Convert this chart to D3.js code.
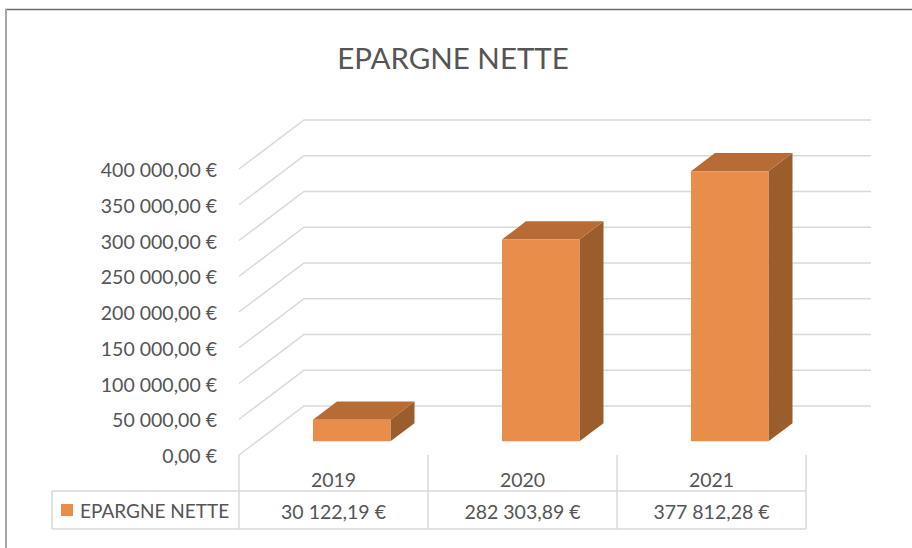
<!DOCTYPE html>
<html>
<head>
<meta charset="utf-8">
<script src="https://cdn.jsdelivr.net/npm/d3@7"></script>
<style>
  body { margin: 0; background: #fff; }
  text { font-family: Lato, "Open Sans", sans-serif; fill: #555; }
</style>
</head>
<body>
<div id="chart"></div>
<script>
var TITLE = 'EPARGNE NETTE';
var SERIES_NAME = 'EPARGNE NETTE';
var YEARS = ['2019', '2020', '2021'];
var EPARGNE = [30122.19, 282303.89, 377812.28];
var Y_TICKS = [0, 50000, 100000, 150000, 200000, 250000, 300000, 350000, 400000];

var width = 912, height = 548;
var plot = {left: 239, right: 806, top: 169, bottom: 455};
// full depth of the 3d box (front plane -> back wall)
var depth = {dx: 65, dy: -49};
var barFront = 0.28, barBack = 0.65;

var fr = d3.formatLocale({decimal: ',', thousands: ' ', grouping: [3], currency: ['', ' €']});
var euro = fr.format('$,.2f');

var data = YEARS.map(function(d, i) { return {year: d, value: EPARGNE[i]}; });

var svg = d3.select('#chart')
    .append('svg')
    .attr('width', width)
    .attr('height', height);

// frame (only top and left edges visible)
svg.append('line').attr('x1', 5).attr('x2', width).attr('y1', 9.5).attr('y2', 9.5)
    .attr('stroke', '#6a6a6a').attr('stroke-width', 1.5);
svg.append('line').attr('x1', 6).attr('x2', 6).attr('y1', 9).attr('y2', height)
    .attr('stroke', '#a6a6a6').attr('stroke-width', 2);

var xCol = d3.scaleBand().domain(YEARS).range([plot.left, plot.right]);
var xBar = d3.scaleBand().domain(YEARS).range([plot.left, plot.right])
    .paddingInner(0.59).paddingOuter(0.295);
var y = d3.scaleLinear().domain([0, 400000]).range([plot.bottom, plot.top]);

function proj(px, v, f) {
    return [px + depth.dx * f, y(v) + depth.dy * f];
}

// title
svg.append('text')
    .attr('x', 453).attr('y', 69)
    .attr('text-anchor', 'middle')
    .style('font-size', '29.5px')
    .text(TITLE);

// gridlines: left wall diagonal + back wall
svg.append('g').selectAll('path')
    .data(Y_TICKS)
    .enter().append('path')
    .attr('d', function(t) {
        var a = proj(plot.left, t, 0), b = proj(plot.left, t, 1), c = proj(plot.right, t, 1);
        return 'M' + a + 'L' + b + 'L' + c;
    })
    .attr('fill', 'none')
    .attr('stroke', '#d9d9d9')
    .attr('stroke-width', 1.5);

// y labels
svg.append('g').selectAll('text')
    .data(Y_TICKS)
    .enter().append('text')
    .attr('x', 217)
    .attr('y', function(t) { return y(t) + 8; })
    .attr('text-anchor', 'end')
    .style('font-size', '19.5px')
    .text(function(t) { return euro(t); });

// bars
var bars = svg.append('g').selectAll('g')
    .data(data)
    .enter().append('g');

function poly(pts) { return 'M' + pts.join('L') + 'Z'; }

bars.append('path')
    .attr('fill', '#9b5d2b')
    .attr('d', function(d) {
        var x1 = xBar(d.year) + xBar.bandwidth();
        return poly([proj(x1, 0, barFront), proj(x1, d.value, barFront), proj(x1, d.value, barBack), proj(x1, 0, barBack)]);
    });
bars.append('path')
    .attr('fill', '#b86c35')
    .attr('d', function(d) {
        var x0 = xBar(d.year), x1 = x0 + xBar.bandwidth();
        return poly([proj(x0, d.value, barFront), proj(x1, d.value, barFront), proj(x1, d.value, barBack), proj(x0, d.value, barBack)]);
    });
bars.append('path')
    .attr('fill', '#e88d4a')
    .attr('d', function(d) {
        var x0 = xBar(d.year), x1 = x0 + xBar.bandwidth();
        return poly([proj(x0, 0, barFront), proj(x1, 0, barFront), proj(x1, d.value, barFront), proj(x0, d.value, barFront)]);
    });

// data table
var rowTop = 455, rowMid = 491, rowBot = 529, legLeft = 52;
var table = svg.append('g').attr('stroke', '#d9d9d9').attr('stroke-width', 1.5);
var edges = YEARS.map(function(d) { return xCol(d); }).concat([plot.right]);
table.selectAll('line.v')
    .data(edges)
    .enter().append('line')
    .attr('x1', function(d) { return d; }).attr('x2', function(d) { return d; })
    .attr('y1', rowTop).attr('y2', rowBot);
table.append('line').attr('x1', legLeft).attr('x2', legLeft).attr('y1', rowMid).attr('y2', rowBot);
table.append('line').attr('x1', legLeft).attr('x2', plot.right).attr('y1', rowMid).attr('y2', rowMid);
table.append('line').attr('x1', legLeft).attr('x2', plot.right).attr('y1', rowBot).attr('y2', rowBot);

svg.append('g').selectAll('text')
    .data(data)
    .enter().append('text')
    .attr('x', function(d) { return xCol(d.year) + xCol.bandwidth() / 2; })
    .attr('y', 487)
    .attr('text-anchor', 'middle')
    .style('font-size', '19.5px')
    .text(function(d) { return d.year; });

svg.append('g').selectAll('text')
    .data(data)
    .enter().append('text')
    .attr('x', function(d) { return xCol(d.year) + xCol.bandwidth() / 2; })
    .attr('y', 519)
    .attr('text-anchor', 'middle')
    .style('font-size', '19.5px')
    .text(function(d) { return euro(d.value); });

// legend key
svg.append('rect')
    .attr('x', 61).attr('y', 504).attr('width', 12).attr('height', 12)
    .attr('fill', '#e88d4a');
svg.append('text')
    .attr('x', 80).attr('y', 518)
    .style('font-size', '19px')
    .text(SERIES_NAME);
</script>
</body>
</html>
